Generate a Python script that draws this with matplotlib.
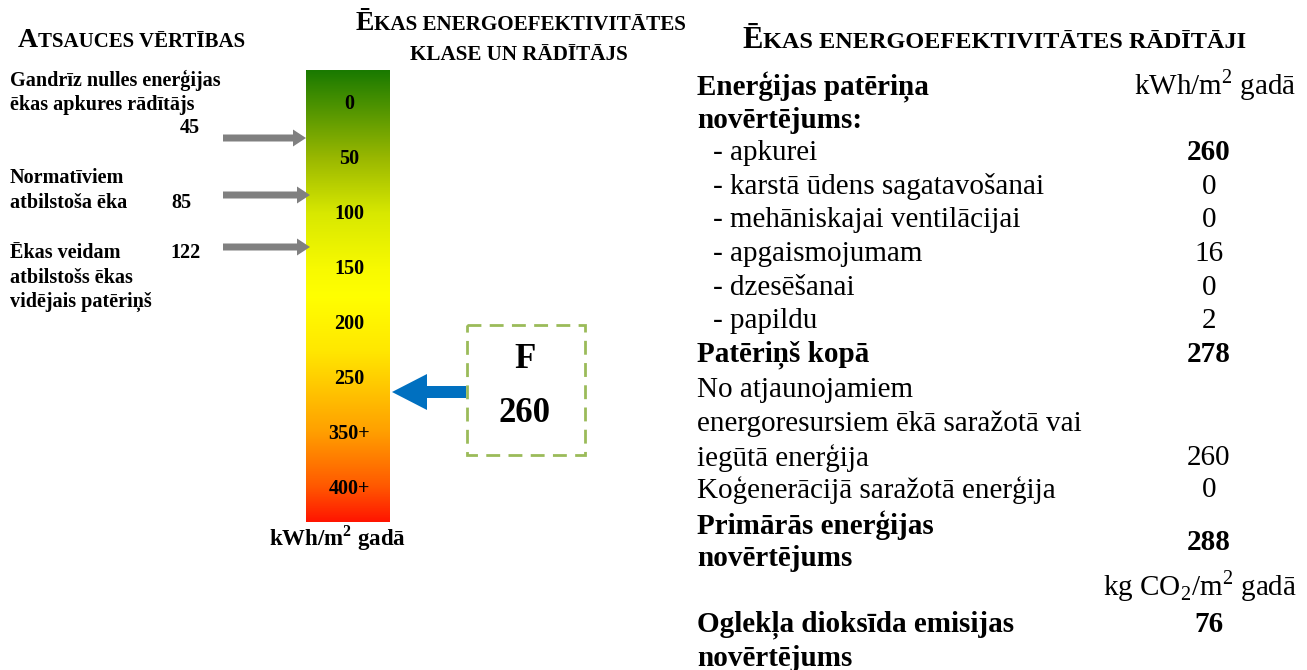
import numpy as np
import matplotlib
matplotlib.use("Agg")
import matplotlib.pyplot as plt
from matplotlib.colors import LinearSegmentedColormap
from matplotlib.patches import FancyArrow, Rectangle

plt.rcParams['font.family'] = ['Liberation Serif', 'DejaVu Serif']
plt.rcParams['mathtext.fontset'] = 'custom'
plt.rcParams['mathtext.rm'] = 'Liberation Serif'
plt.rcParams['mathtext.bf'] = 'Liberation Serif:bold'

# scale of the class bar
scale_labels = ['0', '50', '100', '150', '200', '250', '350+', '400+']

# reference values (left column)
ref_labels = [['Gandrīz nulles enerģijas', 'ēkas apkures rādītājs'],
              ['Normatīviem', 'atbilstoša ēka'],
              ['Ēkas veidam', 'atbilstošs ēkas', 'vidējais patēriņš']]
ref_values = [45, 85, 122]

# the building
energy_class = 'F'
energy_value = 260

# indicator table (right side)
row_labels = ['Enerģijas patēriņa', 'novērtējums:',
              '- apkurei', '- karstā ūdens sagatavošanai',
              '- mehāniskajai ventilācijai', '- apgaismojumam',
              '- dzesēšanai', '- papildu', 'Patēriņš kopā',
              'No atjaunojamiem', 'energoresursiem ēkā saražotā vai',
              'iegūtā enerģija', 'Koģenerācijā saražotā enerģija',
              'Primārās enerģijas', 'novērtējums', '',
              'Oglekļa dioksīda emisijas', 'novērtējums']
row_bold = [True, True, False, False, False, False, False, False, True,
            False, False, False, False, True, True, False, True, True]
row_values = ['', '', '260', '0', '0', '16', '0', '2', '278',
              '', '', '260', '0', '', '', '', '76', '']
value_bold = [False, False, True, False, False, False, False, False, True,
              False, False, False, False, False, False, False, True, False]
primary_value = '288'

W, H = 1307, 670
fig = plt.figure(figsize=(W / 100, H / 100), dpi=100)
ax = fig.add_axes([0, 0, 1, 1])
ax.set_xlim(0, W)
ax.set_ylim(H, 0)
ax.axis('off')
renderer = fig.canvas.get_renderer()


def smallcaps(x, y, first, rest, big, small, ha='left'):
    # first letter large, the rest as small capitals
    t1 = ax.text(0, y, first, fontsize=big, fontweight='bold', va='baseline')
    t2 = ax.text(0, y, rest, fontsize=small, fontweight='bold', va='baseline')
    w1 = t1.get_window_extent(renderer).width if first else 0
    w2 = t2.get_window_extent(renderer).width
    x0 = x if ha == 'left' else x - (w1 + w2) / 2
    t1.set_x(x0)
    t2.set_x(x0 + w1)


# headers
smallcaps(18, 47, 'A', 'TSAUCES VĒRTĪBAS', 20, 15)
smallcaps(521, 30, 'Ē', 'KAS ENERGOEFEKTIVITĀTES', 20, 15.2, ha='center')
smallcaps(519, 60, '', 'KLASE UN RĀDĪTĀJS', 20, 15.2, ha='center')
smallcaps(994, 48, 'Ē', 'KAS ENERGOEFEKTIVITĀTES RĀDĪTĀJI', 22, 17.5, ha='center')

# gradient bar
bar_x0, bar_x1, bar_y0, bar_y1 = 306, 390, 70, 522
cmap = LinearSegmentedColormap.from_list('cls', [
    (0.0, '#1a7a00'), (0.195, '#9ab800'), (0.316, '#d8e800'), (0.44, '#f8fa00'),
    (0.5, '#ffff00'), (0.62, '#ffe800'), (0.8, '#ffa000'), (0.92, '#ff5a00'),
    (1.0, '#ff1500')])
grad = np.linspace(0, 1, 256).reshape(-1, 1)
ax.imshow(grad, cmap=cmap, aspect='auto',
          extent=(bar_x0, bar_x1, bar_y1, bar_y0), origin='upper')

label_y = 104 + 55 * np.arange(len(scale_labels))
for lab, ly in zip(scale_labels, label_y):
    ax.text(349, ly, lab, fontsize=14.5, fontweight='bold', ha='center', va='center')

ax.text(338, 538, 'kWh/m$^\\mathbf{2}$ gadā', fontsize=16.5, fontweight='bold',
        ha='center', va='center')

# reference labels and grey arrows
label_rows = [[80, 105], [178, 203], [253, 278, 302]]
value_pos = [(190, 128), (181, 203), (185, 253)]
arrow_y = [138, 195, 247]
arrow_tip = [306, 310, 310]
for lines, rows, val, vp, ay, tip in zip(ref_labels, label_rows, ref_values,
                                         value_pos, arrow_y, arrow_tip):
    for line, ry in zip(lines, rows):
        ax.text(10, ry, line, fontsize=14.5, fontweight='bold', va='center')
    ax.text(vp[0], vp[1], str(val), fontsize=14.5, fontweight='bold',
            ha='center', va='center')
    ax.add_patch(FancyArrow(223, ay, tip - 223, 0, width=7, head_width=17,
                            head_length=13, length_includes_head=True,
                            color='#808080', lw=0))

# building class box and blue arrow
ax.add_patch(Rectangle((467, 325), 118, 130, fill=False, edgecolor='#9bbb59',
                       lw=2, linestyle=(0, (5, 3))))
ax.text(525, 359, energy_class, fontsize=25, fontweight='bold',
        ha='center', va='center')
ax.text(525, 414, str(energy_value), fontsize=25, fontweight='bold',
        ha='center', va='center')
ax.add_patch(FancyArrow(466, 392, 392 - 466, 0, width=12, head_width=36,
                        head_length=35, length_includes_head=True,
                        color='#0070c0', lw=0))

# indicator table
row_y = [87, 120, 153, 187, 220, 254, 288, 321, 355, 390, 424, 458, 490,
         525, 558, 588, 625, 658]
for lab, bold, val, vb, ry in zip(row_labels, row_bold, row_values,
                                  value_bold, row_y):
    if lab:
        lx = 713 if lab.startswith('- ') else 697
        ax.text(lx, ry, lab, fontsize=21, fontweight='bold' if bold else 'normal',
                va='center')
    if val:
        ax.text(1209, ry, val, fontsize=21, fontweight='bold' if vb else 'normal',
                ha='center', va='center')
ax.text(1209, 542, primary_value, fontsize=21, fontweight='bold',
        ha='center', va='center')
ax.text(1215, 85, 'kWh/m$^2$ gadā', fontsize=21, ha='center', va='center')
ax.text(1200, 586, 'kg CO$_2$/m$^2$ gadā', fontsize=21, ha='center', va='center')

fig.savefig('out.png', dpi=100)
